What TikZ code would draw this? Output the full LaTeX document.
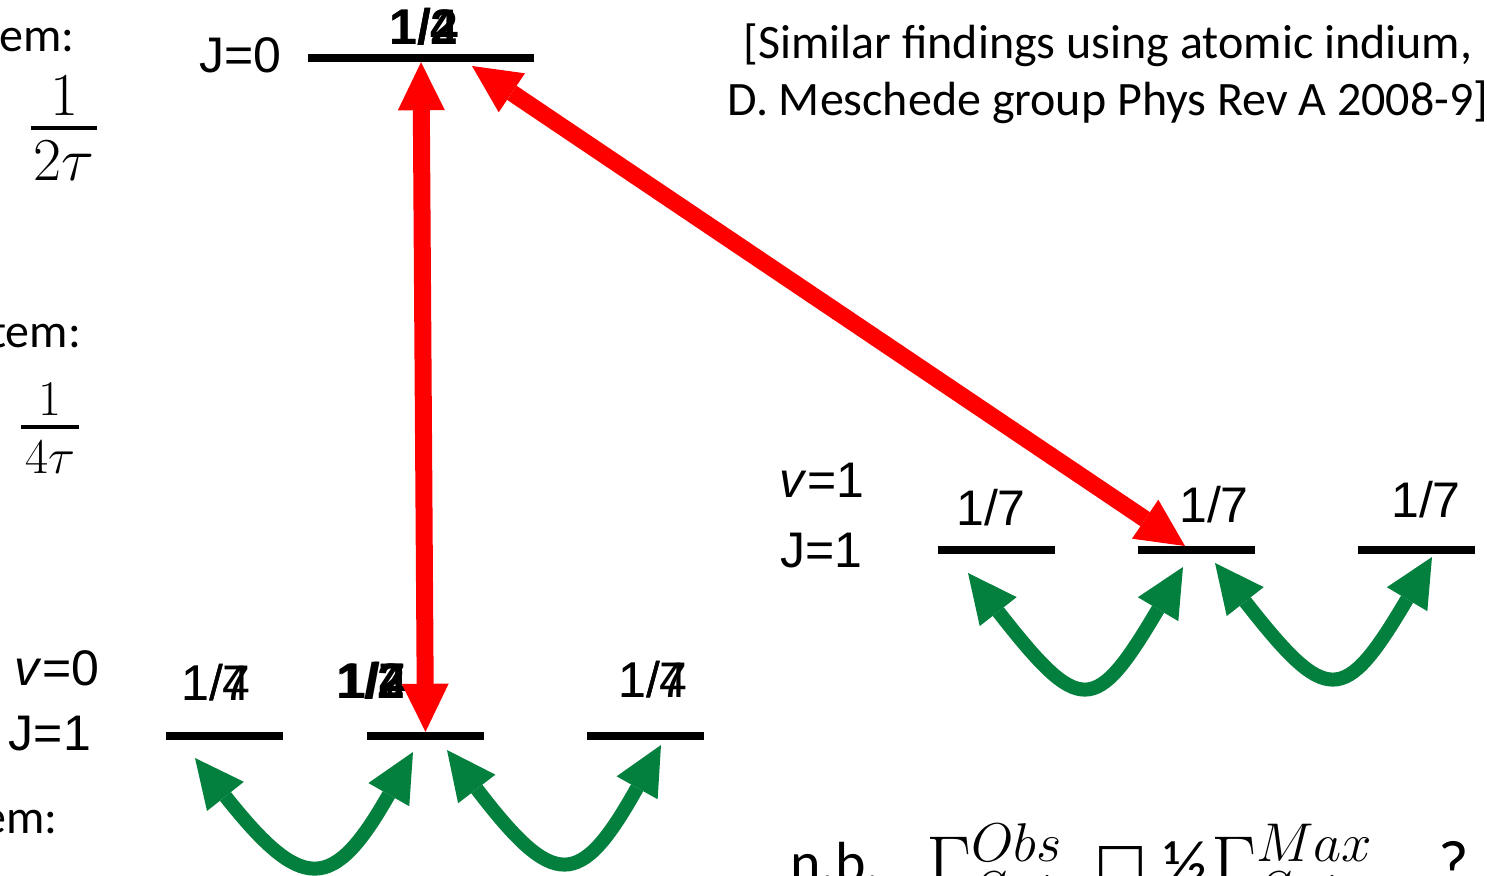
\documentclass[tikz,border=0pt]{standalone}
\usepackage{fix-cm}
\usepackage[no-math]{fontspec}
\setmainfont{Liberation Sans}
\newfontfamily\calib{Carlito}
\newfontfamily\dejavu{DejaVu Sans}
\usetikzlibrary{arrows.meta,calc}
\definecolor{arrred}{RGB}{255,0,0}
\definecolor{arrgreen}{RGB}{3,127,62}
\tikzset{
  level/.style={fill=black, inner sep=0pt, minimum height=8pt, minimum width=117pt},
  lab/.style={inner sep=0pt, anchor=base, font=\fontsize{50}{60}\selectfont},
  blab/.style={lab, font=\fontsize{50}{60}\selectfont\bfseries},
  caltext/.style={inner sep=0pt, font=\fontsize{48}{57}\selectfont\calib},
  mathbig/.style={inner sep=0pt, anchor=base, font=\fontsize{61}{66}\selectfont},
  mathmid/.style={inner sep=0pt, anchor=base, font=\fontsize{50}{56}\selectfont},
  fracbar/.style={line width=4.5pt},
  redarrow/.style={draw=arrred, line width=17pt,
    {Triangle[length=48pt,width=47pt,line width=0pt,fill=arrred]}-{Triangle[length=48pt,width=47pt,line width=0pt,fill=arrred]}},
  greenarrow/.style={draw=arrgreen, line width=14pt,
    {Triangle[length=49pt,width=47pt,line width=0pt,fill=arrgreen]}-{Triangle[length=49pt,width=47pt,line width=0pt,fill=arrgreen]}},
}
\begin{document}
\begin{tikzpicture}[x=1pt,y=-1pt]
\clip (0,0) rectangle (1487,875);

% levels
\node[level, minimum width=226pt] (L0) at (421,58) {};
\node[level] (B1) at (224.5,736) {};
\node[level] (B2) at (425.5,736) {};
\node[level] (B3) at (645.5,736) {};
\node[level] (R1) at (996.5,550) {};
\node[level] (R2) at (1196.5,550) {};
\node[level] (R3) at (1416.5,550) {};

% level labels
\node[lab] (j0) at (240,72) {J=0};
\node[lab] (v0) at (57,685) {\textit{v}=0};
\node[lab] (j1a) at (50,750) {J=1};
\node[lab] (v1) at (822,497) {\textit{v}=1};
\node[lab] (j1b) at (821,567) {J=1};

% population labels (overlapping animation states)
\node[blab] (p0a) at (424,45) {1/2};
\node[blab] (p0b) at (424,45) {1/4};
\node[lab] (pb1a) at (216,700) {1/4};
\node[lab] (pb1b) at (216,700) {1/7};
\node[blab] (pb2a) at (371,698) {1/2};
\node[blab] (pb2b) at (373,698) {1/4};
\node[lab] (pb2c) at (372,698) {1/7};
\node[lab] (pb3a) at (653,697) {1/4};
\node[lab] (pb3b) at (653,697) {1/7};
\node[lab] (pr1) at (991,525) {1/7};
\node[lab] (pr2) at (1214,522) {1/7};
\node[lab] (pr3) at (1426,517) {1/7};

% red arrows
\coordinate (dTop) at (472,66);
\coordinate (dBot) at (1185,546);
\draw[redarrow] (B2.north) -- (L0.south);
\draw[redarrow] (dTop) -- (dBot);

% green arrows
\coordinate (g1a) at (195,758);
\coordinate (g1b) at (413,752);
\coordinate (g2a) at (447,750);
\coordinate (g2b) at (661,745);
\coordinate (g3a) at (968,573);
\coordinate (g3b) at (1183,567);
\coordinate (g4a) at (1215,563);
\coordinate (g4b) at (1432,557);
\draw[greenarrow] (g1a) .. controls (302,893) and (333,893) .. (g1b);
\draw[greenarrow] (g2a) .. controls (554,890) and (580,890) .. (g2b);
\draw[greenarrow] (g3a) .. controls (1080,716) and (1095,716) .. (g3b);
\draw[greenarrow] (g4a) .. controls (1327,706) and (1344,706) .. (g4b);

% reference text
\node[caltext, align=center, anchor=base] (ref) at (1108,115)
  {[Similar findings using atomic indium,\\D. Meschede group Phys Rev A 2008-9]};

% left cut-off text
\node[caltext, anchor=base east] (em1) at (75,52) {em:};
\node[caltext, anchor=base east] (em2) at (81,347) {tem:};
\node[caltext, anchor=base east] (em3) at (58,833) {em:};

% fractions 1/(2 tau) and 1/(4 tau)
\node[mathbig] (f1n) at (64,115) {$1$};
\coordinate (f1l) at (31,128);
\coordinate (f1r) at (97,128);
\draw[fracbar] (f1l) -- (f1r);
\node[mathbig] (f1d) at (64,180) {$2\tau$};
\node[mathmid] (f2n) at (50,415) {$1$};
\coordinate (f2l) at (21,427);
\coordinate (f2r) at (79,427);
\draw[fracbar, line width=4pt] (f2l) -- (f2r);
\node[mathmid] (f2d) at (50,473) {$4\tau$};

% bottom note (cut off)
\node[inner sep=0pt, anchor=base west, font=\fontsize{58}{60}\selectfont\calib] (nb) at (790,882) {n.b.};
\node[inner sep=0pt, anchor=base west, font=\fontsize{78}{80}\selectfont] (g1) at (926,890) {$\Gamma^{Obs}_{Sat}$};
\node[inner sep=0pt, anchor=base west, font=\fontsize{56}{60}\selectfont\dejavu] (box) at (1094,882) {□};
\node[inner sep=0pt, anchor=base west, font=\fontsize{66}{70}\selectfont\calib] (half) at (1163,886) {½};
\node[inner sep=0pt, anchor=base west, font=\fontsize{78}{80}\selectfont] (g2) at (1211,890) {$\Gamma^{Max}_{Sat}$};
\node[inner sep=0pt, anchor=base west, font=\fontsize{66}{70}\selectfont\calib] (q) at (1438,886) {?};
\end{tikzpicture}
\end{document}
